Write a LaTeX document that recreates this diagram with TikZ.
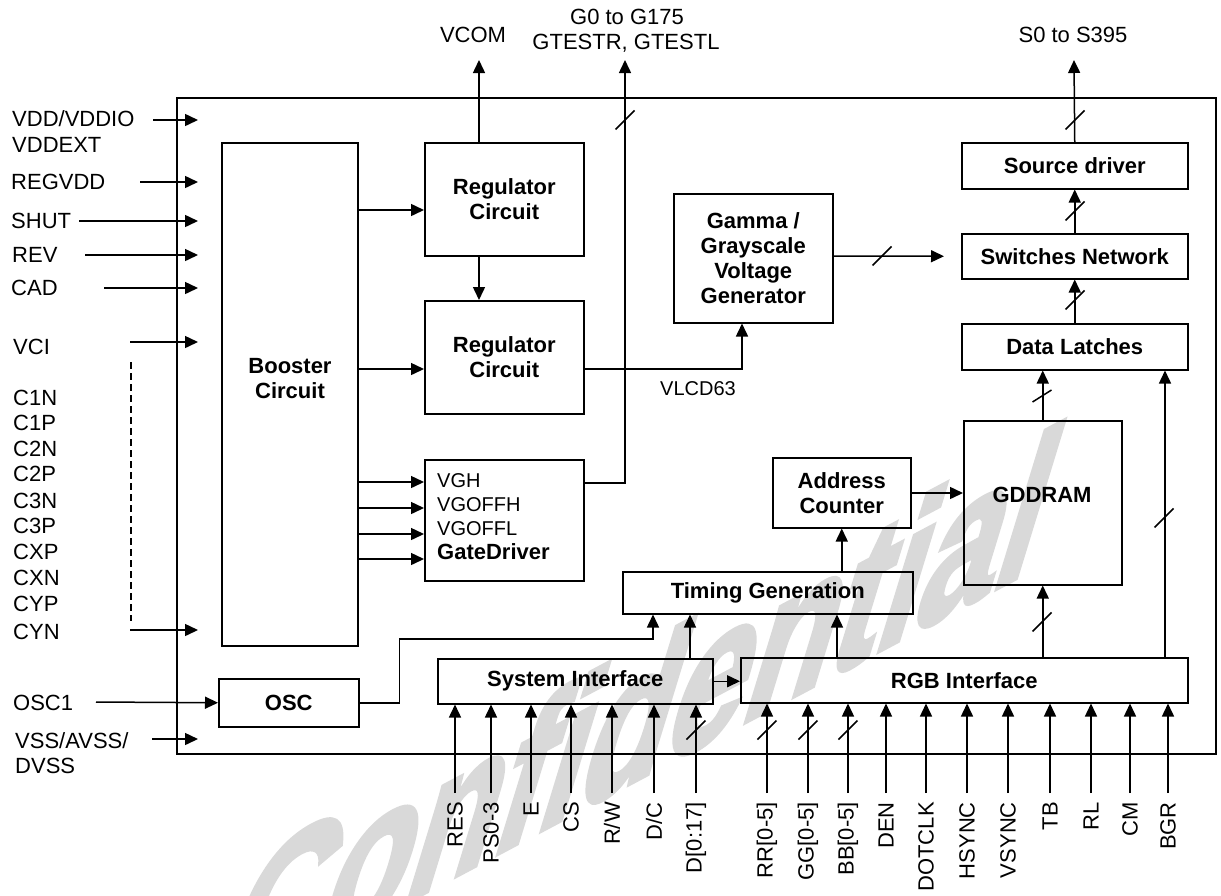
\documentclass[tikz,border=0pt]{standalone}
\usepackage{fontspec}
\setmainfont{Liberation Sans}
\newfontfamily\wmfont[FakeBold=3]{Liberation Sans Bold}
\usetikzlibrary{arrows.meta}
\begin{document}
\begin{tikzpicture}[x=1pt,y=-1pt,
  box/.style={draw, line width=1.5pt, inner sep=0pt, anchor=north west, align=center,
    font=\fontsize{22}{25}\selectfont\bfseries},
  lab/.style={inner sep=0pt, font=\fontsize{22}{25}\selectfont},
  slab/.style={inner sep=0pt, font=\fontsize{20}{24}\selectfont},
  blab/.style={inner sep=0pt, align=center, font=\fontsize{22}{25}\selectfont\bfseries},
  wire/.style={line width=1.5pt},
  conn/.style={line width=1.5pt, -{Triangle[length=13pt,width=12pt]}},
  wmark/.style={text=gray!30, inner sep=0pt, font=\wmfont\bfseries\fontsize{160}{160}\selectfont}
]
\useasboundingbox (0,0) rectangle (1221,895);
\begin{scope}
\clip (0,0) rectangle (1221,895);
\node[wmark, rotate=28, xslant=1.0] (wm) at (642,712) {Confidential};
\end{scope}

% ---------- boxes ----------
\node[box, minimum width=1039pt, minimum height=656pt] (chip) at (176,97) {};
\node[box, minimum width=136pt, minimum height=503pt] (booster) at (221,142) {};
\node[blab] (boostertxt) at (290,379) {Booster\\Circuit};
\node[box, minimum width=159pt, minimum height=113pt] (reg1) at (424,142) {Regulator\\Circuit};
\node[box, minimum width=159pt, minimum height=113pt] (reg2) at (424,300) {Regulator\\Circuit};
\node[box, minimum width=159pt, minimum height=121pt] (gate) at (424,459) {};
\node[slab, anchor=west] (vgh) at (437,481) {VGH};
\node[slab, anchor=west] (vgoffh) at (437,505) {VGOFFH};
\node[slab, anchor=west] (vgoffl) at (437,529) {VGOFFL};
\node[blab, anchor=west] (gd) at (437,552) {GateDriver};
\node[box, minimum width=159pt, minimum height=129pt] (gamma) at (673,193) {Gamma /\\Grayscale\\Voltage\\Generator};
\node[box, minimum width=226pt, minimum height=46pt] (source) at (961,142) {Source driver};
\node[box, minimum width=226pt, minimum height=45pt] (switches) at (961,233) {Switches Network};
\node[box, minimum width=226pt, minimum height=46pt] (latches) at (961,323) {Data Latches};
\node[box, minimum width=158pt, minimum height=164pt] (gddram) at (963,420) {};
\node[blab] (gddramtxt) at (1042,495) {GDDRAM};
\node[box, minimum width=138pt, minimum height=70pt] (addr) at (772,457) {Address\\Counter};
\node[box, minimum width=290pt, minimum height=42pt] (timing) at (622,571) {Timing Generation};
\node[box, minimum width=140pt, minimum height=48pt] (osc) at (218,678) {OSC};
\node[box, minimum width=275pt, minimum height=45pt] (sys) at (437,658) {System Interface};
\node[box, minimum width=447pt, minimum height=45pt] (rgb) at (740,657) {RGB Interface};

% ---------- left inputs ----------
\coordinate (inL) at (198,0);
\node[lab, anchor=west] (lvdd) at (12,119) {VDD/VDDIO};
\node[lab, anchor=west] (lvddext) at (12,145) {VDDEXT};
\node[lab, anchor=west] (lregvdd) at (11,182) {REGVDD};
\node[lab, anchor=west] (lshut) at (11,221) {SHUT};
\node[lab, anchor=west] (lrev) at (12,255) {REV};
\node[lab, anchor=west] (lcad) at (11,288) {CAD};
\node[lab, anchor=west] (lvci) at (13,347) {VCI};
\foreach \y/\t in {398/C1N,423/C1P,449/C2N,474/C2P,501/C3N,526/C3P,552/CXP,578/CXN,604/CYP,632/CYN}
  \node[lab, anchor=west] (l\t) at (13,\y) {\t};
\node[lab, anchor=west] (losc1) at (13,703) {OSC1};
\node[lab, anchor=west] (lvss) at (15,741) {VSS/AVSS/};
\node[lab, anchor=west] (ldvss) at (15,766) {DVSS};

\coordinate (sVDD) at (153,120);
\coordinate (sREG) at (140,182);
\coordinate (sSHUT) at (79,221);
\coordinate (sREV) at (85,255);
\coordinate (sCAD) at (104,288);
\coordinate (sVCI) at (130,342);
\coordinate (sCYN) at (130,630);
\coordinate (sOSC) at (96,702);
\coordinate (sVSS) at (152,739);
\foreach \c in {sVDD,sREG,sSHUT,sREV,sCAD,sVCI,sCYN,sVSS}
  \draw[conn] (\c) -- (\c -| inL);
\draw[conn] (sOSC) -- (osc.west);
\coordinate (dashT) at (131,362);
\coordinate (dashB) at (131,621);
\draw[line width=1.3pt, dash pattern=on 7pt off 4pt] (dashT) -- (dashB);

% ---------- internal connectors ----------
\draw[conn] (booster.east |- 0,210) -- (reg1.west |- 0,210);
\draw[conn] (booster.east |- 0,369) -- (reg2.west |- 0,369);
\foreach \y in {482,508,534,559}
  \draw[conn] (booster.east |- 0,\y) -- (gate.west |- 0,\y);
\draw[conn] (reg1.south -| 479,0) -- (reg2.north -| 479,0);

\coordinate (vcomE) at (479,60);
\draw[conn] (reg1.north -| vcomE) -- (vcomE);
\node[lab] (vcom) at (473,35) {VCOM};

\coordinate (gE) at (625,60);
\draw[conn] (gate.east |- 0,483) -| (gE);
\node[lab] (g0) at (627,17) {G0 to G175};
\node[lab] (gtest) at (626,43) {GTESTR, GTESTL};
\draw[wire] (625,120) ++(-9.5,9.5) -- ++(19,-19);

\draw[conn] (reg2.east |- 0,369) -| (gamma.south -| 742,0);
\node[slab] (vlcd) at (698,389) {VLCD63};

\draw[conn] (gamma.east |- 0,256) -- ([xshift=-17pt]switches.west);
\draw[wire] (882,256) ++(-9.5,9.5) -- ++(19,-19);

\coordinate (sE) at (1074,60);
\draw[conn] (source.north) -- (sE);
\node[lab] (s0) at (1073,35) {S0 to S395};
\draw[wire] (1075,120) ++(-9.5,9.5) -- ++(19,-19);

\draw[conn] (switches.north) -- (source.south);
\draw[wire] (1075,211) ++(-9.5,9.5) -- ++(19,-19);
\draw[conn] (latches.north) -- (switches.south);
\draw[wire] (1075,300) ++(-9.5,9.5) -- ++(19,-19);

\draw[conn] (gddram.north) -- (latches.south -| gddram.north);
\draw[wire] (1042,396) ++(-9.5,6) -- ++(19,-12);
\draw[conn] (addr.east |- 0,493) -- (gddram.west |- 0,493);
\draw[conn] (timing.north -| addr.south) -- (addr.south);

\coordinate (oscT) at (653,639);
\draw[conn] (osc.east) -- ++(40,0) |- (oscT) -- (timing.south -| oscT);
\draw[conn] (sys.north -| 690,0) -- (timing.south -| 690,0);
\draw[conn] (sys.east) -- (rgb.west |- sys.east);
\draw[conn] (rgb.north -| 837,0) -- (timing.south -| 837,0);
\draw[conn] (rgb.north -| gddram.south) -- (gddram.south);
\draw[wire] (1042,622) ++(-9.5,9.5) -- ++(19,-19);
\draw[conn] (rgb.north -| 1165,0) -- (latches.south -| 1165,0);
\draw[wire] (1164,518) ++(-9.5,9.5) -- ++(19,-19);

% ---------- bottom pins ----------
\foreach \x/\t/\n in {455/RES/res,491/PS0-3/ps,531/E/e,571/CS/cs,612/R\slash W/rw,654/D\slash C/dc,696/D[0:17]/d}{
  \coordinate (p\n) at (\x,793);
  \draw[conn] (p\n) -- (sys.south -| p\n);
  \node[lab, rotate=90, anchor=east] (l\n) at (\x,802) {\t};
}
\foreach \x/\t/\n in {767/RR[0-5]/rr,808/GG[0-5]/gg,848/BB[0-5]/bb,886/DEN/den,926/DOTCLK/dotclk,967/HSYNC/hsync,1008/VSYNC/vsync,1050/TB/tb,1091/RL/rl,1130/CM/cm,1168/BGR/bgr}{
  \coordinate (p\n) at (\x,793);
  \draw[conn] (p\n) -- (rgb.south -| p\n);
  \node[lab, rotate=90, anchor=east] (l\n) at (\x,802) {\t};
}
\foreach \x in {696,767,808,848}
  \draw[wire] (\x,730) ++(-9.5,9.5) -- ++(19,-19);
\end{tikzpicture}
\end{document}
